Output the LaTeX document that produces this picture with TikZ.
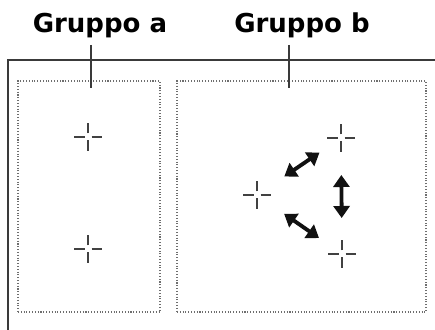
\documentclass[tikz,border=0pt]{standalone}
\usepackage{fontspec}
\setsansfont{DejaVu Sans}
\usepackage{tikz}
\usetikzlibrary{arrows.meta,positioning,calc}
\definecolor{ink}{HTML}{111111}
\definecolor{frame}{HTML}{3A3A3A}
\definecolor{dots}{HTML}{6E6E6E}

\tikzset{
  grouplabel/.style={font=\sffamily\bfseries\fontsize{14.8}{17}\selectfont, text=black, inner sep=0pt, anchor=base},
  groupbox/.style={draw=dots, densely dotted, line width=0.6pt, inner sep=0pt},
  leader/.style={draw=frame, line width=0.8pt},
  crosshair/.style={
    minimum size=0.6cm, inner sep=0pt,
    path picture={
      \draw[line width=0.75pt, ink!80]
        ($(path picture bounding box.center)+(-0.28cm,0)$) -- ++(0.21cm,0)
        ($(path picture bounding box.center)+(0.07cm,0)$) -- ++(0.21cm,0)
        ($(path picture bounding box.center)+(0,-0.28cm)$) -- ++(0,0.21cm)
        ($(path picture bounding box.center)+(0,0.07cm)$) -- ++(0,0.21cm);
    }
  },
  swap/.style={draw=ink, line width=2.2pt,
    {Triangle[length=0.24cm,width=0.32cm]}-{Triangle[length=0.24cm,width=0.32cm]}}
}

\begin{document}
\begin{tikzpicture}[x=0.02cm,y=-0.02cm]
  \useasboundingbox (0,0) rectangle (435,330);

  % outer frame, only top and left show
  \coordinate (framebl) at (8,330);
  \coordinate (frametl) at (8,60);
  \coordinate (frametr) at (435,60);
  \draw[frame, line width=1.1pt] (framebl) -- (frametl) -- (frametr);

  % the two groups
  \node[groupbox, minimum width=142*0.02cm, minimum height=231*0.02cm] (boxa) at (89,196.5) {};
  \node[groupbox, minimum width=249*0.02cm, minimum height=231*0.02cm] (boxb) at (301.5,196.5) {};

  \node[grouplabel] (labela) at (100,33) {Gruppo a};
  \node[grouplabel] (labelb) at (302,33) {Gruppo b};

  \coordinate (taila) at (91,45);
  \coordinate (heada) at (91,88);
  \coordinate (tailb) at (289,45);
  \coordinate (headb) at (289,88);
  \draw[leader] (taila) -- (heada);
  \draw[leader] (tailb) -- (headb);

  % points in group a
  \node[crosshair] (atop) at (88,137) {};
  \node[crosshair] (abot) at (88,249) {};

  % points in group b
  \node[crosshair] (bleft) at (257,195) {};
  \node[crosshair] (btop) at (341,138) {};
  \node[crosshair] (bbot) at (342,254) {};

  \draw[swap, shorten <=0.66cm, shorten >=0.52cm] (bleft.center) -- (btop.center);
  \draw[swap, shorten <=0.74cm, shorten >=0.72cm] (btop.center) -- (bbot.center);
  \draw[swap, shorten <=0.66cm, shorten >=0.56cm] (bleft.center) -- (bbot.center);
\end{tikzpicture}
\end{document}
